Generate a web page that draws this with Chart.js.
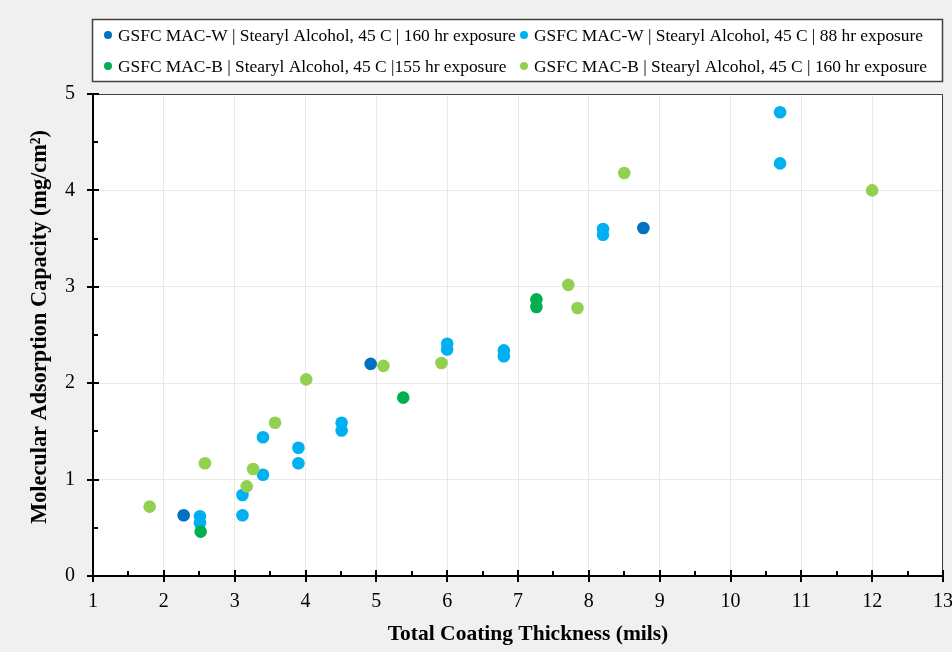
<!DOCTYPE html>
<html>
<head>
<meta charset="utf-8">
<script src="https://cdn.jsdelivr.net/npm/chart.js@4.4.1/dist/chart.umd.min.js"></script>
<style>
  html, body { margin: 0; padding: 0; background: #f0f0f0; }
  #wrap { width: 952px; height: 652px; position: relative; }
</style>
</head>
<body>
<div id="wrap"><canvas id="c"></canvas></div>
<script>
// ---- Data ----
const seriesLabels = [
  'GSFC MAC-W | Stearyl Alcohol, 45 C | 160 hr exposure',
  'GSFC MAC-W | Stearyl Alcohol, 45 C | 88 hr exposure',
  'GSFC MAC-B | Stearyl Alcohol, 45 C |155 hr exposure',
  'GSFC MAC-B | Stearyl Alcohol, 45 C | 160 hr exposure'
];
const seriesColors = ['#0070C0', '#00B0F0', '#00B050', '#92D050'];

const macW160X = [2.28, 4.92, 8.77];
const macW160Y = [0.63, 2.20, 3.61];

const macW88X = [2.51, 2.51, 3.11, 3.11, 3.40, 3.40, 3.90, 3.90, 4.51, 4.51, 6.00, 6.00, 6.80, 6.80, 8.20, 8.20, 10.70, 10.70];
const macW88Y = [0.62, 0.55, 0.84, 0.63, 1.44, 1.05, 1.33, 1.17, 1.59, 1.51, 2.41, 2.35, 2.34, 2.28, 3.60, 3.54, 4.81, 4.28];

const macB155X = [2.52, 5.38, 7.26, 7.26];
const macB155Y = [0.46, 1.85, 2.87, 2.79];

const macB160X = [1.80, 2.58, 3.17, 3.26, 3.57, 4.01, 5.10, 5.92, 7.71, 7.84, 8.50, 12.00];
const macB160Y = [0.72, 1.17, 0.93, 1.11, 1.59, 2.04, 2.18, 2.21, 3.02, 2.78, 4.18, 4.00];

const xTickValues = [1, 2, 3, 4, 5, 6, 7, 8, 9, 10, 11, 12, 13];
const yTickValues = [0, 1, 2, 3, 4, 5];
const xTitle = 'Total Coating Thickness (mils)';
const yTitle = 'Molecular Adsorption Capacity (mg/cm\u00B2)';

const seriesX = [macW160X, macW88X, macB155X, macB160X];
const seriesY = [macW160Y, macW88Y, macB155Y, macB160Y];

function toPoints(xs, ys) { return xs.map((x, i) => ({ x: x, y: ys[i] })); }

const FONT = '"Liberation Serif", "Times New Roman", serif';

const datasets = seriesLabels.map((label, i) => ({
  label: label,
  data: toPoints(seriesX[i], seriesY[i]),
  backgroundColor: seriesColors[i],
  borderWidth: 0,
  pointRadius: 6.3,
  pointHoverRadius: 6.3,
  order: 4 - i
}));

const decorPlugin = {
  id: 'decor',
  beforeDraw(chart) {
    const ctx = chart.ctx;
    const ca = chart.chartArea;
    ctx.save();
    ctx.fillStyle = '#f0f0f0';
    ctx.fillRect(0, 0, chart.width, chart.height);
    ctx.fillStyle = '#ffffff';
    ctx.fillRect(ca.left, ca.top, ca.right - ca.left, ca.bottom - ca.top);
    // legend box
    ctx.fillRect(92, 19, 851, 63);
    ctx.restore();
  },
  afterDraw(chart) {
    const ctx = chart.ctx;
    const ca = chart.chartArea;
    const xs = chart.scales.x, ys = chart.scales.y;
    ctx.save();
    // plot border top/right
    ctx.strokeStyle = '#404040';
    ctx.lineWidth = 1;
    ctx.beginPath();
    ctx.moveTo(ca.left, ca.top + 0.5);
    ctx.lineTo(ca.right - 0.5, ca.top + 0.5);
    ctx.lineTo(ca.right - 0.5, ca.bottom);
    ctx.stroke();

    // axes ticks
    ctx.strokeStyle = '#000000';
    ctx.lineWidth = 2;
    ctx.beginPath();
    xTickValues.forEach(v => {
      const px = Math.round(xs.getPixelForValue(v));
      ctx.moveTo(px, ca.bottom - 6); ctx.lineTo(px, ca.bottom + 6);
      if (v < xTickValues[xTickValues.length - 1]) {
        const pm = Math.round(xs.getPixelForValue(v + 0.5));
        ctx.moveTo(pm, ca.bottom - 5); ctx.lineTo(pm, ca.bottom);
      }
    });
    yTickValues.forEach(v => {
      const py = Math.round(ys.getPixelForValue(v));
      ctx.moveTo(ca.left - 6, py); ctx.lineTo(ca.left + 6, py);
      if (v < yTickValues[yTickValues.length - 1]) {
        const pm = Math.round(ys.getPixelForValue(v + 0.5));
        ctx.moveTo(ca.left, pm); ctx.lineTo(ca.left + 5, pm);
      }
    });
    ctx.stroke();

    // legend
    ctx.strokeStyle = '#404040';
    ctx.lineWidth = 1.5;
    ctx.strokeRect(92.5, 19.5, 850, 62);
    ctx.font = '17.4px ' + FONT;
    ctx.textBaseline = 'middle';
    ctx.textAlign = 'left';
    const colX = [108, 524];
    const rowY = [35, 66];
    chart.data.datasets.forEach((ds, i) => {
      const cx = colX[i % 2], cy = rowY[Math.floor(i / 2)];
      ctx.fillStyle = ds.backgroundColor;
      ctx.beginPath();
      ctx.arc(cx, cy, 4, 0, Math.PI * 2);
      ctx.fill();
      ctx.fillStyle = '#000000';
      ctx.fillText(ds.label, cx + 10, cy + 1);
    });

    // axis titles
    ctx.fillStyle = '#000000';
    ctx.textAlign = 'center';
    ctx.textBaseline = 'middle';
    ctx.font = 'bold 21.5px ' + FONT;
    ctx.fillText(xTitle, 528, 634);
    ctx.font = 'bold 22.3px ' + FONT;
    ctx.translate(40, 327);
    ctx.rotate(-Math.PI / 2);
    ctx.fillText(yTitle, 0, 0);
    ctx.restore();
  }
};

new Chart(document.getElementById('c'), {
  type: 'scatter',
  data: { datasets: datasets },
  options: {
    responsive: true,
    maintainAspectRatio: false,
    animation: false,
    events: [],
    layout: { padding: { top: 94, right: 9, left: 0, bottom: 0 } },
    plugins: { legend: { display: false }, tooltip: { enabled: false }, title: { display: false } },
    scales: {
      x: {
        type: 'linear', min: 1, max: 13,
        afterBuildTicks(scale) { scale.ticks = xTickValues.map(v => ({ value: v })); },
        afterFit(scale) { scale.height = 76; scale.paddingLeft = 0; scale.paddingRight = 0; },
        grid: { color: '#e9e9e9', lineWidth: 1, drawTicks: false },
        border: { display: true, color: '#000000', width: 2 },
        ticks: { color: '#000000', font: { family: FONT, size: 20 }, padding: 14, maxRotation: 0, autoSkip: false }
      },
      y: {
        type: 'linear', min: 0, max: 5,
        afterBuildTicks(scale) { scale.ticks = yTickValues.map(v => ({ value: v })); },
        afterFit(scale) { scale.width = 93; scale.paddingTop = 0; scale.paddingBottom = 0; },
        grid: { color: '#e9e9e9', lineWidth: 1, drawTicks: false },
        border: { display: true, color: '#000000', width: 2 },
        ticks: { color: '#000000', font: { family: FONT, size: 20 }, padding: 18, autoSkip: false }
      }
    }
  },
  plugins: [decorPlugin]
});
</script>
</body>
</html>
